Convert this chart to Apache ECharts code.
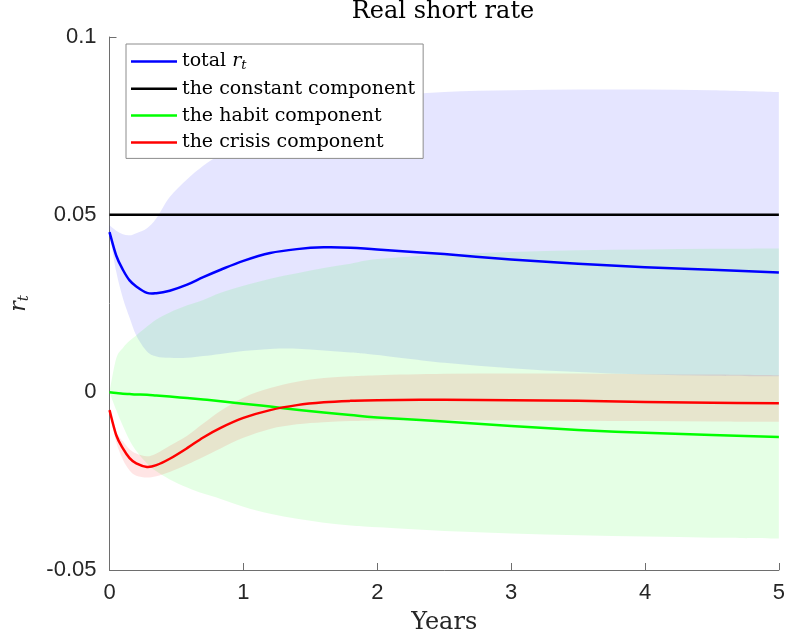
<!DOCTYPE html>
<html>
<head>
<meta charset="utf-8">
<script src="https://cdn.jsdelivr.net/npm/echarts@6/dist/echarts.min.js"></script>
<style>html,body{margin:0;padding:0;background:#fff}#c{width:788px;height:640px}</style>
</head>
<body>
<div id="c"></div>
<script>
// time grid (years)
const years = [0, 0.05, 0.1, 0.15, 0.2, 0.28, 0.35, 0.45, 0.58, 0.7, 0.83, 1.0, 1.2, 1.4, 1.6, 1.8, 2.0, 2.5, 3.0, 3.5, 4.0, 4.5, 5.0];
// total r_t
const totalMean = [0.0451, 0.0385, 0.0345, 0.0315, 0.0298, 0.0280, 0.0279, 0.0286, 0.0303, 0.0324, 0.0345, 0.0370, 0.0392, 0.0403, 0.0408, 0.0407, 0.0402, 0.0389, 0.0374, 0.0362, 0.0352, 0.0345, 0.0337];
const totalHi   = [0.0470, 0.0455, 0.0445, 0.0442, 0.0448, 0.0462, 0.0490, 0.0550, 0.0600, 0.0638, 0.0670, 0.0710, 0.0750, 0.0780, 0.0800, 0.0820, 0.0830, 0.0845, 0.0850, 0.0852, 0.0852, 0.0850, 0.0845];
const totalLo   = [0.0450, 0.0340, 0.0265, 0.0210, 0.0160, 0.0115, 0.0101, 0.0097, 0.0097, 0.0102, 0.0108, 0.0116, 0.0122, 0.0123, 0.0118, 0.0112, 0.0105, 0.0083, 0.0068, 0.0057, 0.0050, 0.0047, 0.0045];
// constant component
const constVal = 0.05;
// habit component
const habitMean = [0.0000, -0.0002, -0.0004, -0.0005, -0.0006, -0.0007, -0.0009, -0.0012, -0.0016, -0.0020, -0.0025, -0.0032, -0.0040, -0.0049, -0.0057, -0.0064, -0.0071, -0.0082, -0.0095, -0.0106, -0.0114, -0.0120, -0.0126];
const habitHi   = [0.0000, 0.0095, 0.0125, 0.0145, 0.0160, 0.0185, 0.0205, 0.0225, 0.0245, 0.0260, 0.0280, 0.0300, 0.0320, 0.0335, 0.0350, 0.0362, 0.0375, 0.0388, 0.0395, 0.0400, 0.0402, 0.0404, 0.0405];
const habitLo   = [0.0000, -0.0050, -0.0095, -0.0135, -0.0165, -0.0200, -0.0222, -0.0245, -0.0268, -0.0285, -0.0300, -0.0322, -0.0342, -0.0356, -0.0367, -0.0375, -0.0380, -0.0390, -0.0397, -0.0402, -0.0406, -0.0409, -0.0411];
// crisis component
const crisisMean = [-0.0050, -0.0120, -0.0158, -0.0185, -0.0200, -0.0210, -0.0205, -0.0187, -0.0157, -0.0127, -0.0100, -0.0072, -0.0050, -0.0036, -0.0028, -0.0024, -0.0022, -0.0021, -0.0022, -0.0024, -0.0027, -0.0029, -0.0031];
const crisisHi   = [-0.0045, -0.0110, -0.0138, -0.0160, -0.0172, -0.0180, -0.0172, -0.0150, -0.0122, -0.0088, -0.0052, -0.0015, 0.0012, 0.0030, 0.0040, 0.0045, 0.0048, 0.0052, 0.0053, 0.0053, 0.0051, 0.0050, 0.0048];
const crisisLo   = [-0.0055, -0.0140, -0.0190, -0.0220, -0.0235, -0.0240, -0.0236, -0.0224, -0.0203, -0.0182, -0.0158, -0.0128, -0.0103, -0.0090, -0.0084, -0.0081, -0.0079, -0.0078, -0.0079, -0.0080, -0.0081, -0.0082, -0.0083];
// axis ticks
const xTicks = [0, 1, 2, 3, 4, 5];
const yTicks = [-0.05, 0, 0.05, 0.1];

// Catmull-Rom curve through pixel points -> path commands (rendering only)
function curveCmds(pts) {
  let d = '';
  for (let i = 0; i < pts.length - 1; i++) {
    const p0 = pts[Math.max(0, i - 1)], p1 = pts[i], p2 = pts[i + 1], p3 = pts[Math.min(pts.length - 1, i + 2)];
    const c1x = p1[0] + (p2[0] - p0[0]) / 6, c1y = p1[1] + (p2[1] - p0[1]) / 6;
    const c2x = p2[0] - (p3[0] - p1[0]) / 6, c2y = p2[1] - (p3[1] - p1[1]) / 6;
    d += ' C' + c1x.toFixed(2) + ',' + c1y.toFixed(2) + ' ' + c2x.toFixed(2) + ',' + c2y.toFixed(2) + ' ' + p2[0].toFixed(2) + ',' + p2[1].toFixed(2);
  }
  return d;
}

// shaded band between lo and hi, drawn as one path through the axes' scales
function band(name, lo, hi, color) {
  return {
    name: name, type: 'custom', silent: true, z: 1,
    data: years.map((t, i) => [t, lo[i], hi[i]]),
    encode: {x: 0, y: [1, 2]},
    renderItem: function (params, api) {
      if (params.dataIndex !== 0) return null;
      const upper = years.map((t, i) => api.coord([t, hi[i]]));
      const lower = years.map((t, i) => api.coord([t, lo[i]])).reverse();
      const d = 'M' + upper[0][0] + ',' + upper[0][1] + curveCmds(upper) +
        ' L' + lower[0][0] + ',' + lower[0][1] + curveCmds(lower) + ' Z';
      return {type: 'path', shape: {pathData: d}, style: {fill: color, stroke: 'none'}};
    }
  };
}

// smooth mean line drawn through the axes' scales
function curve(name, xs, ys, color, z) {
  return {
    name: name, type: 'custom', silent: true, z: z,
    itemStyle: {color: color},
    data: xs.map((t, i) => [t, ys[i]]),
    encode: {x: 0, y: 1},
    renderItem: function (params, api) {
      if (params.dataIndex !== 0) return null;
      const pts = xs.map((t, i) => api.coord([t, ys[i]]));
      const d = 'M' + pts[0][0] + ',' + pts[0][1] + curveCmds(pts);
      return {type: 'path', shape: {pathData: d},
        style: {fill: 'none', stroke: color, lineWidth: 2.5, lineJoin: 'round', lineCap: 'butt'}};
    }
  };
}

const chart = echarts.init(document.getElementById('c'), null, {renderer: 'canvas'});
chart.setOption({
  animation: false,
  backgroundColor: '#fff',
  graphic: [
    {type: 'text', x: 443, y: 0, style: {text: 'Real short rate', textAlign: 'center', textVerticalAlign: 'top',
      font: '24px "DejaVu Serif"', fill: '#000'}}
  ],
  grid: {left: 105, right: 6, top: 37, bottom: 70, containLabel: false},
  legend: {
    orient: 'vertical', left: 126, top: 44, z: 10,
    data: [
      {name: 'total', itemStyle: {color: '#0000ff'}},
      {name: 'the constant component', itemStyle: {color: '#000000'}},
      {name: 'the habit component', itemStyle: {color: '#00ff00'}},
      {name: 'the crisis component', itemStyle: {color: '#ff0000'}}
    ],
    icon: 'rect', selectedMode: false,
    backgroundColor: '#fff', borderColor: '#8c8c8c', borderWidth: 1, borderRadius: 0,
    padding: [7, 8, 6, 5], itemWidth: 46, itemHeight: 2.5, itemGap: 6.8,
    textStyle: {fontFamily: 'DejaVu Serif', fontSize: 19, color: '#000', lineHeight: 20,
      rich: {
        n: {fontFamily: 'DejaVu Serif', fontSize: 19, color: '#000', lineHeight: 20},
        i: {fontFamily: 'DejaVu Serif', fontStyle: 'italic', fontSize: 19, color: '#000', lineHeight: 20},
        s: {fontFamily: 'DejaVu Serif', fontStyle: 'italic', fontSize: 13, color: '#000', lineHeight: 20, padding: [8, 0, 0, 0]}
      }},
    formatter: name => name === 'total' ? '{n|total }{i|r}{s|t}' : name
  },
  xAxis: {
    type: 'value', min: 0, max: 5, interval: 1,
    name: 'Years', nameLocation: 'middle', nameGap: 41,
    nameTextStyle: {fontFamily: 'DejaVu Serif', fontSize: 24, color: '#262626'},
    axisLine: {show: true, onZero: false, lineStyle: {color: '#6e6e6e', width: 1}},
    axisTick: {show: true, inside: true, length: 7, lineStyle: {color: '#6e6e6e'}},
    axisLabel: {fontFamily: 'Liberation Sans', fontSize: 22, color: '#262626', margin: 12,
      formatter: v => xTicks.includes(v) ? String(v) : ''},
    splitLine: {show: false}
  },
  yAxis: {
    type: 'value', min: -0.05, max: 0.1, interval: 0.05,
    name: '{i|r}{s|t}', nameLocation: 'middle', nameGap: 78, nameRotate: 90,
    nameTextStyle: {rich: {
      i: {fontFamily: 'DejaVu Serif', fontStyle: 'italic', fontSize: 22, color: '#262626'},
      s: {fontFamily: 'DejaVu Serif', fontStyle: 'italic', fontSize: 15, color: '#262626', padding: [10, 0, 0, 0]}
    }},
    axisLine: {show: true, onZero: false, lineStyle: {color: '#6e6e6e', width: 1}},
    axisTick: {show: true, inside: true, length: 7, lineStyle: {color: '#6e6e6e'}},
    axisLabel: {fontFamily: 'Liberation Sans', fontSize: 22, color: '#262626', margin: 13,
      formatter: v => {
        const m = yTicks.find(y => Math.abs(y - v) < 1e-9);
        return m === undefined ? '' : String(m);
      }},
    splitLine: {show: false}
  },
  series: [
    band('total band', totalLo, totalHi, 'rgba(0,0,255,0.1)'),
    band('habit band', habitLo, habitHi, 'rgba(0,255,0,0.1)'),
    band('crisis band', crisisLo, crisisHi, 'rgba(255,0,0,0.1)'),
    curve('total', years, totalMean, '#0000ff', 3),
    curve('the constant component', [0, 5], [constVal, constVal], '#000000', 3),
    curve('the habit component', years, habitMean, '#00ff00', 3),
    curve('the crisis component', years, crisisMean, '#ff0000', 3)
  ]
});
</script>
</body>
</html>
